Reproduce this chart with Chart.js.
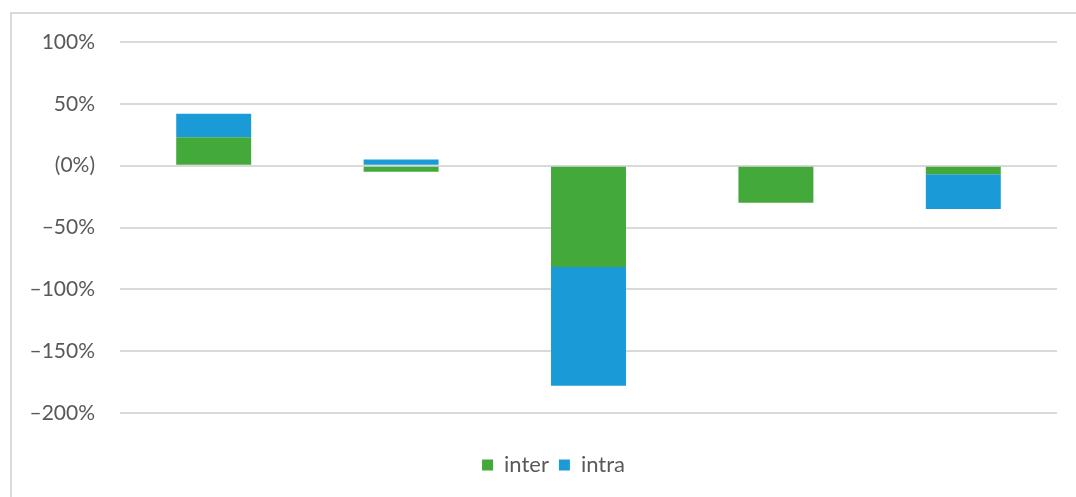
<!DOCTYPE html>
<html>
<head>
<meta charset="utf-8">
<script src="https://cdn.jsdelivr.net/npm/chart.js@4"></script>
<style>
  html, body { margin: 0; padding: 0; background: #fff; }
  #wrap { position: relative; width: 1076px; height: 497px; overflow: hidden; }
  #frame { position: absolute; left: 10px; top: 12px; width: 1070px; height: 500px;
           border: 2px solid #d9d9d9; box-sizing: border-box; }
  #c { position: absolute; left: 0; top: 0; }
</style>
</head>
<body>
<div id="wrap">
  <div id="frame"></div>
  <canvas id="c" width="1076" height="497"></canvas>
</div>
<script>
// Chart data
const categories = ['', '', '', '', ''];
const interValues = [23, -5, -82, -30, -7];
const intraValues = [19, 5, -96, 0, -28];
const tickValues = [100, 50, 0, -50, -100, -150, -200];
const tickLabels = ['100%', '50%', '(0%)', '\u201350%', '\u2013100%', '\u2013150%', '\u2013200%'];

const textColor = '#595959';
const fontFamily = 'Lato, Carlito, Calibri, sans-serif';

// nudge the legend a bit right so it sits where the original has it
const legendShift = {
  id: 'legendShift',
  afterLayout: function (chart) {
    if (chart.legend) chart.legend.left += 50;
  }
};

new Chart(document.getElementById('c'), {
  type: 'bar',
  data: {
    labels: categories,
    datasets: [
      {
        label: 'inter',
        data: interValues,
        backgroundColor: '#43a93a',
        barPercentage: 0.4,
        categoryPercentage: 1.0
      },
      {
        label: 'intra',
        data: intraValues,
        backgroundColor: '#1a9bd7',
        barPercentage: 0.4,
        categoryPercentage: 1.0
      }
    ]
  },
  options: {
    responsive: false,
    animation: false,
    layout: { padding: { left: 0, right: 19, top: 42, bottom: 11 } },
    plugins: {
      legend: {
        position: 'bottom',
        labels: {
          color: textColor,
          font: { family: fontFamily, size: 22 },
          boxWidth: 11,
          boxHeight: 11,
          padding: 10
        }
      },
      tooltip: { enabled: false }
    },
    scales: {
      x: {
        stacked: true,
        grid: { display: false },
        border: { display: false },
        ticks: { display: false },
        afterFit: function (scale) { scale.height = 31; }
      },
      y: {
        stacked: true,
        min: -200,
        max: 100,
        afterBuildTicks: function (scale) {
          scale.ticks = tickValues.map(function (v) { return { value: v }; });
        },
        afterFit: function (scale) { scale.width = 120; },
        grid: { color: '#d9d9d9', lineWidth: 2, drawTicks: false },
        border: { display: false },
        ticks: {
          color: textColor,
          font: { family: fontFamily, size: 21 },
          padding: 25,
          callback: function (value) {
            const i = tickValues.indexOf(value);
            return i >= 0 ? tickLabels[i] : '';
          }
        }
      }
    }
  },
  plugins: [legendShift]
});
</script>
</body>
</html>
